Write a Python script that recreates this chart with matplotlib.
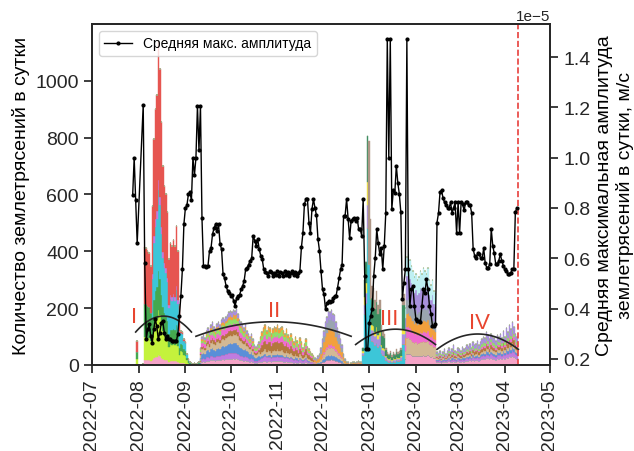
import numpy as np
import pandas as pd
import matplotlib
matplotlib.use('Agg')
import matplotlib.pyplot as plt
import matplotlib.dates as mdates

plt.rcParams['font.family'] = ['Liberation Sans', 'DejaVu Sans']
plt.rcParams['axes.linewidth'] = 1.25
plt.rcParams['axes.edgecolor'] = '#262626'
plt.rcParams['xtick.major.width'] = 1.25
plt.rcParams['ytick.major.width'] = 1.25
plt.rcParams['xtick.major.size'] = 6
plt.rcParams['ytick.major.size'] = 6
plt.rcParams['xtick.color'] = '#262626'
plt.rcParams['ytick.color'] = '#262626'

# daily number of events, split into runs of consecutive days
counts_aug = [0, 85, 0, 0, 0, 5, 415, 410, 400, 395, 350, 560, 794, 900, 950,
              1140, 1040, 854, 700, 630, 600, 538, 372, 430, 420, 440, 420, 490,
              400, 210, 120, 115, 90, 80, 40, 20, 10, 8, 5, 6, 4, 8, 10, 20]
counts_autumn = [60, 100, 105, 95, 120, 130, 115, 140, 150, 135, 125, 145, 150,
                 140, 160, 165, 160, 170, 175, 185, 190, 185, 195, 190, 196, 180,
                 160, 150, 140, 130, 145, 120, 110, 100, 110, 90, 70, 65, 70, 80,
                 100, 115, 130, 140, 120, 135, 130, 110, 125, 135, 130, 140, 125,
                 130, 135, 120, 110, 125, 105, 95, 110, 90, 80, 100, 85, 70, 95,
                 80, 60, 75, 90, 65, 55, 45, 40, 30, 25, 20, 30, 40, 60, 90, 120,
                 150, 170, 190, 185, 195, 180, 175, 150, 130, 110, 90, 70, 40, 20,
                 12, 10]
counts_winter = [8, 10, 12, 8, 10, 15, 12, 10, 60, 300, 361, 806, 790, 513, 278,
                 270, 230, 260, 210, 230, 140, 120, 110, 60, 45, 40, 50, 35, 45,
                 40, 55, 45, 50, 60, 250, 250, 200, 380, 390, 370, 350, 330, 310,
                 320, 300, 310, 330, 320, 340, 330, 320, 340, 300, 280, 300, 260,
                 250]
counts_spring = [45, 40, 50, 35, 45, 55, 40, 50, 60, 45, 55, 70, 50, 45, 60, 55,
                 50, 65, 55, 60, 70, 65, 75, 60, 80, 70, 75, 85, 70, 80, 90, 100,
                 95, 117, 105, 90, 110, 100, 95, 85, 105, 100, 110, 95, 120, 100,
                 130, 115, 140, 125, 150, 135, 110, 100]
count_runs = [('2022-07-30', counts_aug), ('2022-09-11', counts_autumn),
              ('2022-12-20', counts_winter), ('2023-02-15', counts_spring)]

# mean max amplitude per day, units of 1e-5 m/s (None = no data)
amp_jul = [0.85, 1.00, 0.83, 0.66]
amp_aug = [None, None, None, 1.21, 0.58, 0.277, 0.317, 0.337, 0.29, 0.264, 0.317,
           0.357, 0.33, 0.277, 0.304, 0.343, 0.35, 0.304, 0.277, 0.29, 0.277,
           0.277, 0.27, 0.27, 0.27, 0.27, 0.30, 0.37, 0.45, 0.556, 0.735]
amp_sep = [0.80, 0.81, 0.855, 0.862, 0.83, 1.0, 0.93, 1.0, 1.205, 1.03, 1.205,
           0.76, 0.57, 0.57, 0.565, 0.57, 0.63, 0.64, 0.695, 0.72, 0.735, 0.71,
           0.735, 0.656, 0.636, 0.536, 0.52, 0.49, 0.47, 0.463]
amp_oct = [0.45, 0.455, 0.43, 0.41, 0.44, 0.45, 0.455, 0.476, 0.49, 0.51, 0.556,
           0.563, 0.575, 0.59, 0.60, 0.69, 0.67, 0.65, 0.676, 0.636, 0.61, 0.596,
           0.556, 0.545, 0.54, 0.53, 0.55, 0.545, 0.53, 0.54, 0.535]
amp_nov = [0.55, 0.53, 0.545, 0.54, 0.53, 0.55, 0.535, 0.545, 0.53, 0.54, 0.55,
           0.535, 0.545, 0.53, 0.54, 0.55, 0.643, 0.70, 0.815, 0.835, 0.835,
           0.742, 0.70, 0.795, 0.835, 0.80, 0.77, 0.676, 0.63, 0.55]
amp_dec = [0.476, 0.456, 0.397, 0.42, 0.43, 0.425, 0.43, 0.44, 0.45, 0.45, 0.483,
           0.52, 0.556, 0.575, 0.769, 0.769, 0.835, 0.755, 0.68, 0.75, 0.755,
           0.76, 0.75, 0.76, 0.716, 0.716, 0.69, 0.835, 0.53, 0.237, 0.237]
amp_jan = [0.343, 0.37, 0.40, 0.53, 0.60, 0.716, 0.66, 0.616, 0.64, 0.556, 0.65,
           0.78, 1.47, 1.00, 1.47, 0.795, 0.87, 0.86, 0.968, 0.90, 0.855, 0.782,
           0.437, 0.50, 0.556, 1.47, 0.556, 0.41, 0.476, 0.49, 0.41]
amp_feb = [0.357, 0.35, 0.35, 0.345, 0.41, 0.476, 0.46, 0.516, 0.476, 0.41, 0.38,
           0.33, 0.33, 0.34, 0.742, 0.78, 0.862, 0.87, 0.84, 0.822, 0.81, 0.80,
           0.80, 0.822, 0.78, 0.80, 0.822, 0.70]
amp_mar = [0.822, 0.70, 0.822, 0.815, 0.79, 0.822, 0.822, 0.81, 0.81, 0.78, 0.636,
           0.61, 0.60, 0.62, 0.616, 0.60, 0.60, 0.64, 0.58, 0.563, 0.563, 0.576,
           0.716, 0.65, 0.62, 0.576, 0.576, 0.59, 0.616, 0.59, 0.57]
amp_apr = [0.556, 0.55, 0.536, 0.536, 0.543, 0.556, 0.556, 0.782, 0.80]
amp_start = '2022-07-28'

# colours of the stacked groups, bottom to top
group_colors = {
    'pink': '#f5a3c7', 'lime': '#c4f23c', 'green': '#45a84f', 'cyan': '#3cc6d8',
    'purple': '#c07ce0', 'red': '#e65550', 'blue': '#5a8fd8', 'tan': '#d3b995',
    'brown': '#b3773d', 'magenta': '#f06bd0', 'lightgreen': '#8fe06a',
    'orange': '#f2a03c', 'gray': '#9aa5b0', 'lavender': '#a890dc',
    'palecyan': '#bff0f2', 'yellow': '#f2e640', 'darkgreen': '#3d8f62',
    'mocha': '#ae9686',
}
# group share of the daily total in each period
group_mix = [
    ('2022-07-30', '2022-08-09', {'pink': 4, 'lime': 20, 'green': 28, 'red': 48}),
    ('2022-08-10', '2022-08-28', {'pink': 3, 'lime': 14, 'green': 12, 'cyan': 25,
                                  'purple': 3, 'red': 43}),
    ('2022-08-29', '2022-09-10', {'pink': 6, 'lime': 34, 'green': 22, 'cyan': 33,
                                  'red': 5}),
    ('2022-09-11', '2022-10-20', {'blue': 18, 'tan': 16, 'magenta': 12, 'purple': 10,
                                  'lightgreen': 10, 'pink': 12, 'brown': 8,
                                  'lavender': 8, 'orange': 6}),
    ('2022-10-21', '2022-11-25', {'brown': 22, 'magenta': 15, 'purple': 12,
                                  'lightgreen': 14, 'tan': 12, 'pink': 10, 'blue': 5,
                                  'orange': 10}),
    ('2022-11-26', '2022-12-27', {'orange': 28, 'gray': 20, 'tan': 15, 'lavender': 14,
                                  'pink': 10, 'blue': 8, 'magenta': 5}),
    ('2022-12-28', '2022-12-31', {'lavender': 10, 'darkgreen': 20, 'cyan': 60,
                                  'yellow': 10}),
    ('2023-01-01', '2023-01-02', {'cyan': 45, 'mocha': 55}),
    ('2023-01-03', '2023-01-24', {'lavender': 14, 'darkgreen': 34, 'cyan': 30,
                                  'yellow': 7, 'mocha': 15}),
    ('2023-01-25', '2023-02-14', {'palecyan': 18, 'lavender': 22, 'tan': 15,
                                  'orange': 12, 'gray': 13, 'pink': 10, 'magenta': 10}),
    ('2023-02-15', '2023-04-10', {'pink': 22, 'lavender': 18, 'purple': 12, 'brown': 12,
                                  'lightgreen': 10, 'tan': 10, 'blue': 8, 'magenta': 8}),
]

# swarm episodes: label position and envelope arc (start, end, edge, peak)
episode_labels = [('I', '2022-07-29', 169), ('II', '2022-10-30', 190),
                  ('III', '2023-01-14', 162), ('IV', '2023-03-15', 151)]
episode_arcs = [('2022-07-30', '2022-09-05', 116, 172),
                ('2022-09-08', '2022-12-20', 101, 152),
                ('2022-12-23', '2023-02-14', 72, 126),
                ('2023-02-15', '2023-04-10', 55, 109)]
eruption_date = '2023-04-10'

# ---- build arrays
dates = []
counts = []
for start, vals in count_runs:
    dates += list(pd.date_range(start, periods=len(vals)))
    counts += vals
dates = pd.DatetimeIndex(dates)
counts = np.array(counts, dtype=float)

names = list(group_colors)
layers = np.zeros((len(names), len(dates)))
for start, end, shares in group_mix:
    m = (dates >= pd.Timestamp(start)) & (dates <= pd.Timestamp(end))
    total = sum(shares.values())
    for name, s in shares.items():
        layers[names.index(name), m] = counts[m] * s / total

amp_vals = amp_jul + amp_aug + amp_sep + amp_oct + amp_nov + amp_dec + amp_jan \
    + amp_feb + amp_mar + amp_apr
amp_dates = pd.date_range(amp_start, periods=len(amp_vals))
keep = np.array([v is not None for v in amp_vals])
amp = np.array([v for v in amp_vals if v is not None]) * 1e-5

# ---- plot
fig = plt.figure(figsize=(6.34, 4.52), dpi=100)
ax = fig.add_axes([0.1451, 0.1903, 0.7224, 0.7544])

bottom = np.zeros(len(dates))
for i, name in enumerate(names):
    h = layers[i]
    if h.sum() == 0:
        continue
    c = group_colors[name]
    ax.bar(dates, h, width=1.0, bottom=bottom, color=c, edgecolor=c,
           linewidth=0.3, align='center')
    bottom += h

for start, end, edge, peak in episode_arcs:
    t = pd.date_range(start, end, periods=100)
    u = np.linspace(-1, 1, 100)
    ax.plot(t, peak - (peak - edge) * u ** 2, color='#262626', lw=1.2)

for text, day, level in episode_labels:
    ax.text(pd.Timestamp(day), level, text, color='#e8452f', fontsize=16,
            ha='center', va='center')

ax.axvline(pd.Timestamp(eruption_date), color='#e8403c', ls='--', lw=1.2)

ax.set_ylim(0, 1200)
ax.set_yticks([0, 200, 400, 600, 800, 1000])
ax.set_xlim(pd.Timestamp('2022-07-01'), pd.Timestamp('2023-05-01'))
ax.xaxis.set_major_locator(mdates.MonthLocator())
ax.xaxis.set_major_formatter(mdates.DateFormatter('%Y-%m'))
ax.tick_params(axis='x', labelrotation=90, labelsize=14)
ax.tick_params(axis='y', labelsize=14)
ax.set_ylabel('Количество землетрясений в сутки', fontsize=14)

ax2 = ax.twinx()
ax2.plot(amp_dates[keep], amp, color='black', lw=1.0, marker='o', markersize=2,
         label='Средняя макс. амплитуда')
ax2.tick_params(axis='y', labelsize=14)
ax2.yaxis.get_offset_text().set_fontsize(11)
ax2.set_ylabel('Средняя максимальная амплитуда\nземлетрясений в сутки, м/с',
               fontsize=14)
ax2.legend(loc='upper left', fontsize=10)

fig.savefig('out.png', dpi=100)
